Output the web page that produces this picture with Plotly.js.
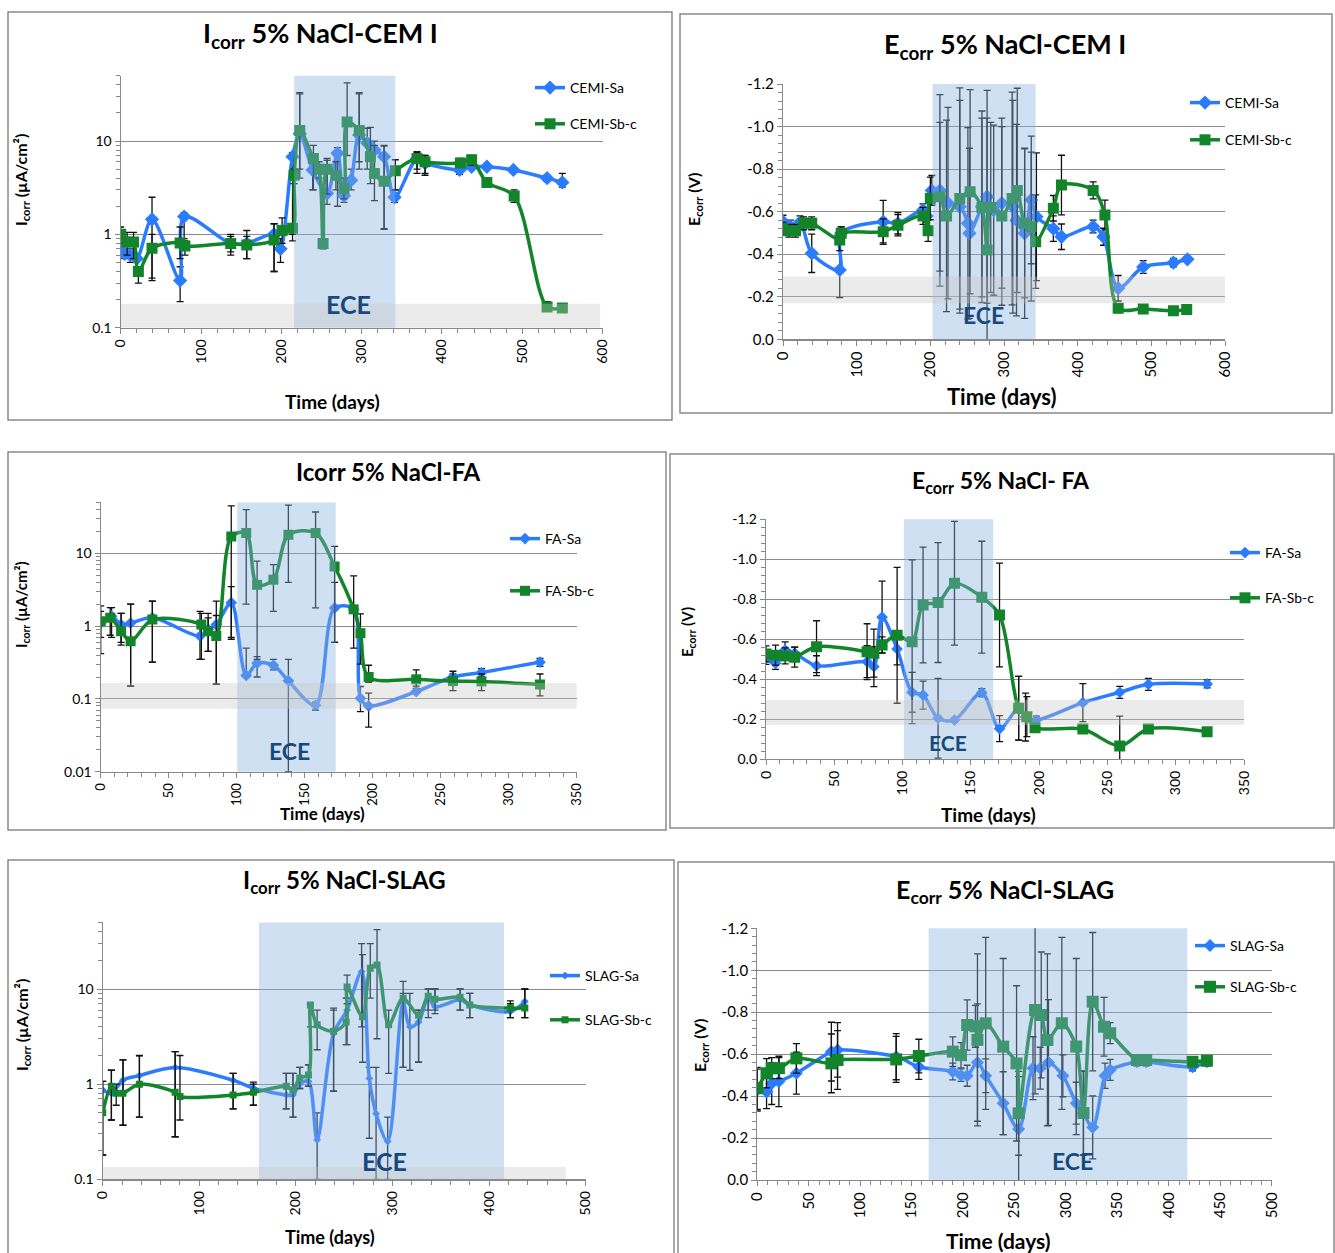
<!DOCTYPE html>
<html><head><meta charset="utf-8">
<script src="https://cdn.plot.ly/plotly-3.0.1.min.js"></script>
<style>html,body{margin:0;padding:0;background:#fff}#chart{width:1335px;height:1253px}</style>
</head><body><div id="chart"></div>
<script>
// ===== Panel 1: Icorr 5% NaCl-CEM I =====
const p1_days_Sa = [0,5,12,20,39,74,79,137,157,191,199,214,223,239,257,270,278,287,297,307,316,328,341,369,379,422,437,456,489,531,550];
const p1_Sa      = [0.67,0.62,0.6,0.55,1.45,0.32,1.55,0.8,0.8,1.0,0.7,6.8,12,4.9,2.75,7.4,2.6,3.8,11.6,9.5,8,6.8,2.5,6.5,5.8,4.9,5.3,5.3,4.9,4.0,3.6];
const p1_Sa_hi   = [1.1,0.75,0.7,0.6,2.5,0.45,1.7,1.0,1.1,1.3,0.9,7.5,32,6,6.2,8.5,3,5,33,13.7,10,8.8,3,7.7,7,5.5,5.6,5.6,5.2,4.3,4.5];
const p1_Sa_lo   = [0.6,0.55,0.5,0.45,0.32,0.19,0.9,0.65,0.55,0.4,0.5,0.85,4,3,2.1,2,2.2,3,5,5,2.3,1.13,2.2,4.5,4.3,4.4,5,5,4.6,3.7,3.2];
const p1_days_Sb = [0,8,16,22,39,74,80,137,157,191,201,214,216,223,240,247,252,257,268,278,282,297,311,316,328,342,369,379,423,437,456,490,531,550];
const p1_Sb      = [1.0,0.83,0.83,0.4,0.71,0.81,0.75,0.8,0.77,0.87,1.1,1.16,4.3,13,6.5,5.0,0.8,5.0,4.3,3.1,16,13,6.8,4.5,3.7,4.8,6.5,6.0,5.8,6.3,3.6,2.57,0.167,0.163];
const p1_Sb_hi   = [1.2,1.05,1.05,0.45,1.0,1.2,0.85,0.95,0.95,1.3,1.5,1.3,5,33,9,6,0.9,6.5,6,4,42,32,14,9,9,6.3,7.5,7,6.5,7,4,3,0.19,0.17];
const p1_Sb_lo   = [0.8,0.6,0.55,0.3,0.34,0.55,0.6,0.6,0.55,0.4,0.8,1.0,3.5,5,3,4,0.7,2.7,3,2.4,7,6,3.5,4,1.15,3,5,4.5,5.5,5.5,3.3,2.2,0.15,0.155];

// ===== Panel 2: Ecorr 5% NaCl-CEM I =====
const p2_days_Sa = [0,10,23,39,77,79,136,156,190,195,202,213,224,240,251,253,270,277,286,297,312,317,328,337,344,367,378,421,435,455,489,530,549];
const p2_Sa      = [-0.553,-0.53,-0.55,-0.404,-0.326,-0.498,-0.553,-0.545,-0.607,-0.58,-0.70,-0.70,-0.64,-0.623,-0.545,-0.498,-0.623,-0.67,-0.607,-0.64,-0.623,-0.56,-0.498,-0.655,-0.576,-0.52,-0.482,-0.53,-0.482,-0.24,-0.34,-0.36,-0.376];
const p2_Sa_err  = [0.03,0.03,0.03,0.09,0.13,0.03,0.1,0.05,0.03,0.03,0.07,0.45,0.45,0.5,0.45,0.4,0.45,0.5,0.4,0.4,0.5,0.45,0.4,0.3,0.3,0.06,0.06,0.03,0.04,0.06,0.03,0.02,0.01];
const p2_days_Sb = [0,8,17,28,39,77,79,136,156,190,197,200,213,222,240,254,270,277,282,297,311,318,328,337,343,367,378,421,437,455,489,530,548];
const p2_Sb      = [-0.52,-0.51,-0.51,-0.545,-0.545,-0.467,-0.498,-0.506,-0.536,-0.58,-0.51,-0.662,-0.67,-0.58,-0.662,-0.694,-0.62,-0.42,-0.62,-0.58,-0.662,-0.70,-0.545,-0.53,-0.459,-0.616,-0.725,-0.70,-0.584,-0.146,-0.143,-0.134,-0.14];
const p2_Sb_err  = [0.03,0.03,0.03,0.03,0.03,0.05,0.03,0.06,0.05,0.04,0.05,0.1,0.35,0.45,0.52,0.48,0.42,0.62,0.4,0.42,0.5,0.48,0.35,0.35,0.22,0.06,0.14,0.04,0.07,0.02,0.02,0.02,0.02];

// ===== Panel 3: Icorr 5% NaCl-FA =====
const p3_days_Sa = [0,8,15,22,38,73,79,85,96,107,115,127,138,158,172,186,191,197,232,259,280,323];
const p3_Sa      = [1.11,1.37,1.05,1.1,1.3,0.73,0.9,1.05,2.1,0.21,0.31,0.29,0.177,0.082,1.78,1.7,0.102,0.08,0.126,0.2,0.23,0.32];
const p3_Sa_hi   = [1.9,1.8,1.5,2.0,2.2,1.6,1.3,1.4,3.5,0.5,0.38,0.35,0.35,0.09,4,1.9,0.148,0.12,0.14,0.22,0.26,0.36];
const p3_Sa_lo   = [0.42,0.7,0.6,0.15,0.32,0.35,0.45,0.16,0.7,0.2,0.2,0.25,0.01,0.07,0.6,1.5,0.067,0.041,0.12,0.18,0.2,0.28];
const p3_days_Sb = [0,7,15,22,38,74,79,85,96,107,115,127,138,158,172,186,191,197,232,259,280,323];
const p3_Sb      = [1.17,1.3,0.85,0.62,1.23,1.05,0.85,0.73,17,19,3.7,4.35,18,19,6.6,1.7,0.8,0.2,0.186,0.176,0.174,0.158];
const p3_Sb_hi   = [1.6,1.8,1.5,2.0,2.2,1.5,1.5,2.2,45,40,7.8,7,46,37,12.5,4.9,1.47,0.29,0.25,0.24,0.22,0.22];
const p3_Sb_lo   = [0.7,0.75,0.55,0.15,0.32,0.35,0.45,0.16,0.66,2,0.35,1.6,4,1.78,0.6,0.5,0.3,0.17,0.15,0.13,0.13,0.11];

// ===== Panel 4: Ecorr 5% NaCl- FA =====
const p4_days_Sa = [0,7,14,21,37,74,79,85,96,107,115,126,138,158,171,185,190,198,232,259,280,323];
const p4_Sa      = [-0.504,-0.479,-0.546,-0.53,-0.467,-0.487,-0.462,-0.71,-0.551,-0.334,-0.32,-0.204,-0.195,-0.332,-0.152,-0.254,-0.21,-0.195,-0.282,-0.334,-0.374,-0.376];
const p4_Sa_err  = [0.03,0.03,0.04,0.03,0.05,0.08,0.1,0.18,0.08,0.1,0.07,0.2,0.01,0.02,0.065,0.16,0.12,0.02,0.095,0.03,0.03,0.02];
const p4_days_Sb = [0,7,14,21,37,74,79,85,96,107,115,126,138,158,171,185,191,197,232,259,280,323];
const p4_Sb      = [-0.526,-0.52,-0.516,-0.51,-0.562,-0.537,-0.53,-0.571,-0.619,-0.587,-0.771,-0.783,-0.88,-0.81,-0.721,-0.254,-0.212,-0.157,-0.15,-0.065,-0.15,-0.137];
const p4_Sb_err  = [0.04,0.05,0.04,0.05,0.13,0.14,0.12,0.04,0.34,0.41,0.29,0.3,0.31,0.28,0.26,0.16,0.1,0.02,0.02,0.15,0.02,0.02];

// ===== Panel 5: Icorr 5% NaCl-SLAG =====
const p5_days_Sa = [0,9,21,38,75,135,156,190,197,204,213,222,239,253,268,276,283,295,311,318,327,337,344,370,380,422,437];
const p5_Sa      = [0.87,0.8,1.1,1.23,1.5,1.1,0.91,0.77,0.77,1.0,1.07,0.26,3.4,6.0,15.2,1.15,0.49,0.25,7.1,4.0,4.5,8.0,6.5,7.7,6.8,5.8,7.4];
const p5_Sa_hi   = [1.07,1.4,1.8,2.0,2.2,1.3,1.0,1.3,1.3,1.5,1.6,0.5,6.3,8,30,1.5,1.5,0.45,9,9,6,10,10,10,9,7.5,10];
const p5_Sa_lo   = [0.18,0.42,0.37,0.45,0.28,0.55,0.6,0.55,0.45,0.9,0.95,0.1,0.84,2.6,4,0.27,0.1,0.1,1.5,1.4,1.7,5,5.5,6,5,5,5];
const p5_days_Sb = [0,9,14,21,38,75,80,135,156,190,197,204,213,215,222,239,252,253,269,277,284,296,311,327,337,344,370,380,422,437];
const p5_Sb      = [0.5,0.95,0.8,0.8,1.0,0.82,0.74,0.77,0.82,0.95,0.87,1.16,1.25,6.8,4.2,3.6,4.5,10.5,5.1,16.5,17.9,4.2,8,5.3,8.4,7.8,8.2,6.8,6.3,6.3];
const p5_Sb_hi   = [1.07,1.4,1.0,1.8,1.98,2.2,2.0,1.3,1.05,1.3,1.3,1.5,1.6,7,6,6,8,14,23,30,42,6,12,6,10,10,10,9,7,10];
const p5_Sb_lo   = [0.18,0.42,0.6,0.37,0.45,0.28,0.42,0.55,0.6,0.55,0.45,0.9,0.95,4,2.3,0.85,2.6,7,1.7,8,3,1.3,1.5,1.7,6,6,6,5,5,5];

// ===== Panel 6: Ecorr 5% NaCl-SLAG =====
const p6_days_Sa = [0,9,14,21,38,72,78,135,157,190,198,204,214,222,239,254,268,275,283,297,310,317,326,338,343,369,378,423,437];
const p6_Sa      = [-0.429,-0.42,-0.46,-0.47,-0.509,-0.612,-0.62,-0.588,-0.54,-0.517,-0.50,-0.497,-0.56,-0.497,-0.366,-0.243,-0.533,-0.533,-0.56,-0.497,-0.366,-0.318,-0.251,-0.497,-0.525,-0.564,-0.564,-0.54,-0.564];
const p6_Sa_err  = [0.1,0.08,0.1,0.12,0.1,0.14,0.13,0.11,0.06,0.04,0.03,0.05,0.28,0.08,0.15,0.25,0.15,0.1,0.3,0.1,0.1,0.2,0.15,0.06,0.05,0.02,0.02,0.02,0.02];
const p6_days_Sb = [0,9,14,21,38,72,78,135,157,190,198,204,212,214,222,239,252,254,270,276,282,296,310,317,326,337,343,369,378,423,437];
const p6_Sb      = [-0.437,-0.509,-0.533,-0.533,-0.58,-0.556,-0.572,-0.575,-0.591,-0.612,-0.595,-0.739,-0.733,-0.668,-0.747,-0.636,-0.556,-0.318,-0.811,-0.787,-0.668,-0.747,-0.636,-0.32,-0.85,-0.731,-0.70,-0.572,-0.572,-0.564,-0.568];
const p6_Sb_err  = [0.1,0.07,0.05,0.05,0.07,0.14,0.14,0.11,0.08,0.07,0.06,0.12,0.1,0.41,0.41,0.42,0.37,0.2,0.4,0.3,0.41,0.41,0.42,0.2,0.33,0.14,0.05,0.02,0.02,0.02,0.02];

// ===== tick labels =====
const ticks600 = [0,100,200,300,400,500,600];
const ticks500 = [0,100,200,300,400,500];
const ticks350 = [0,50,100,150,200,250,300,350];
const ticks500by50 = [0,50,100,150,200,250,300,350,400,450,500];
const logTicks3 = [0.1,1,10];
const logTicks4 = [0.01,0.1,1,10];
const eTicks = [0,-0.2,-0.4,-0.6,-0.8,-1.0,-1.2];
const eTickText = ['0.0','-0.2','-0.4','-0.6','-0.8','-1.0','-1.2'];

// ===== styling & building =====
const W = 1335, H = 1253;
const px = x => x / W, py = y => 1 - y / H;
const BLUE = '#2b7bff', GREEN = '#12842a', ERRC = '#111';
const FONT = 'Lato, "Open Sans", "DejaVu Sans", sans-serif';
const traces = [], shapes = [], annotations = [];
const layout = {
  width: W, height: H, margin: {l:0, r:0, t:0, b:0},
  paper_bgcolor: '#fff', plot_bgcolor: 'rgba(0,0,0,0)',
  font: {family: FONT, color: '#000', size: 14},
  showlegend: true, hovermode: false
};

function logMinor(lo, hi) {
  const out = [];
  for (let e = lo; e < hi; e++) for (let k = 2; k <= 9; k++) out.push(k * Math.pow(10, e));
  return out;
}

function panel(c) {
  const n = c.idx;
  const xk = n === 1 ? 'xaxis' : 'xaxis' + n, yk = n === 1 ? 'yaxis' : 'yaxis' + n;
  const xr = n === 1 ? 'x' : 'x' + n, yr = n === 1 ? 'y' : 'y' + n;
  const lg = n === 1 ? 'legend' : 'legend' + n;
  layout[xk] = {
    domain: [px(c.xDom[0]), px(c.xDom[1])], range: c.xRange, anchor: yr,
    tickmode: 'array', tickvals: c.xTicks, ticktext: c.xTicks.map(String), tickangle: -90,
    ticks: 'outside', ticklen: 5, tickcolor: '#888', showline: true, linecolor: '#888', linewidth: 1.2,
    showgrid: false, zeroline: false, tickfont: {size: c.xTickSize || c.tickSize || 14, family: FONT, color: '#000'},
    minor: {ticks: 'outside', ticklen: 4, tickcolor: '#888', dtick: c.xMinor, tick0: 0, showgrid: false},
    fixedrange: true
  };
  const ya = {
    domain: [py(c.yDom[1]), py(c.yDom[0])], anchor: xr,
    ticks: 'outside', ticklen: 5, tickcolor: '#888', showline: true, linecolor: '#888', linewidth: 1.2,
    showgrid: true, gridcolor: '#8c8c8c', gridwidth: 1, zeroline: false,
    tickfont: {size: c.tickSize || 14, family: FONT, color: '#000'}, fixedrange: true
  };
  if (c.log) {
    Object.assign(ya, {type: 'log', range: c.yRange, tickmode: 'array', tickvals: c.yTicks, ticktext: c.yTicks.map(String),
      minor: {tickmode: 'array', tickvals: logMinor(c.yRange[0], Math.ceil(c.yRange[1])).filter(v => Math.log10(v) <= c.yRange[1]),
        ticks: 'outside', ticklen: 4, tickcolor: '#888', showgrid: false}});
  } else {
    Object.assign(ya, {range: [0, -1.2], tickmode: 'array', tickvals: eTicks, ticktext: eTickText,
      minor: {ticks: 'outside', ticklen: 4, tickcolor: '#888', dtick: 0.04, tick0: 0, showgrid: false}});
  }
  layout[yk] = ya;
  layout[lg] = {x: px(c.legend.x), y: py(c.legend.y), xanchor: 'left', yanchor: 'top',
    bgcolor: 'rgba(0,0,0,0)', font: {size: 14, family: FONT, color: '#000'},
    tracegroupgap: c.legend.gap, traceorder: 'grouped', itemwidth: 30};

  c.series.forEach((s, i) => {
    let ey;
    if (s.hi) ey = {type: 'data', symmetric: false, array: s.hi.map((h, j) => h - s.vals[j]), arrayminus: s.vals.map((v, j) => v - s.lo[j]),
      color: ERRC, thickness: 1.3, width: 3.5};
    else ey = {type: 'data', array: s.err, color: ERRC, thickness: 1.3, width: 3.5};
    traces.push({
      type: 'scatter', mode: 'lines+markers', name: s.name, x: s.days, y: s.vals, xaxis: xr, yaxis: yr,
      legend: lg, legendgroup: 'p' + n + '_' + i,
      line: {color: s.color, width: c.lw || 3.5, shape: 'spline', smoothing: 0.9},
      marker: {color: s.color, symbol: s.symbol, size: s.size},
      error_y: ey
    });
  });

  // frame
  shapes.push({type: 'rect', xref: 'paper', yref: 'paper', x0: px(c.frame[0]), y0: py(c.frame[3]), x1: px(c.frame[2]), y1: py(c.frame[1]),
    line: {color: '#8a8a8a', width: 1.5}, fillcolor: 'rgba(0,0,0,0)', layer: 'below'});
  // ECE band
  shapes.push({type: 'rect', xref: xr, yref: yr + ' domain', x0: c.ece[0], x1: c.ece[1], y0: 0, y1: 1,
    fillcolor: 'rgba(135,178,223,0.4)', line: {width: 0}, layer: 'above'});
  // gray band (data values)
  if (c.gray) {
    shapes.push({type: 'rect', xref: xr, yref: yr, x0: c.gray[0], x1: c.gray[1], y0: c.gray[2], y1: c.gray[3],
      fillcolor: 'rgba(198,198,198,0.35)', line: {width: 0}, layer: 'above'});
  }
  annotations.push({xref: 'paper', yref: 'paper', x: px(c.eceLabel[0]), y: py(c.eceLabel[1]), text: '<b>ECE</b>', showarrow: false,
    xanchor: 'center', yanchor: 'middle', font: {size: c.eceLabel[2], color: '#174a7c', family: FONT}});
  annotations.push({xref: 'paper', yref: 'paper', x: px(c.title[0]), y: py(c.title[1]), text: '<b>' + c.title[3] + '</b>', showarrow: false,
    xanchor: 'center', yanchor: 'middle', font: {size: c.title[2], color: '#000', family: FONT}});
  annotations.push({xref: 'paper', yref: 'paper', x: px(c.ytitle[0]), y: py(c.ytitle[1]), text: '<b>' + c.ytitle[3] + '</b>', showarrow: false,
    textangle: -90, xanchor: 'center', yanchor: 'middle', font: {size: c.ytitle[2], color: '#000', family: FONT}});
  annotations.push({xref: 'paper', yref: 'paper', x: px(c.xtitle[0]), y: py(c.xtitle[1]), text: '<b>Time (days)</b>', showarrow: false,
    xanchor: 'center', yanchor: 'middle', font: {size: c.xtitle[2], color: '#000', family: FONT}});
}

const ICORR_T = 'I<sub>corr</sub> (\u00b5A/cm\u00b2)';
const ECORR_T = 'E<sub>corr</sub> (V)';

panel({idx: 1, xDom: [120.7, 602.5], yDom: [75.7, 327.7], xRange: [0, 600], xTicks: ticks600, xMinor: 20,
  log: true, yRange: [-1, 1.7], yTicks: logTicks3,
  frame: [8, 12, 672, 420], ece: [216, 342], gray: [0, 597, 0.1, 0.18],
  eceLabel: [348, 304, 25], title: [320, 34, 27, 'I<sub>corr</sub> 5% NaCl-CEM I'],
  ytitle: [22, 180, 16, ICORR_T], xtitle: [332, 402, 19], legend: {x: 530, y: 72, gap: 15},
  series: [
    {name: 'CEMI-Sa', days: p1_days_Sa, vals: p1_Sa, hi: p1_Sa_hi, lo: p1_Sa_lo, color: BLUE, symbol: 'diamond', size: 11},
    {name: 'CEMI-Sb-c', days: p1_days_Sb, vals: p1_Sb, hi: p1_Sb_hi, lo: p1_Sb_lo, color: GREEN, symbol: 'square', size: 11}
  ]});

panel({idx: 2, xDom: [783, 1225], yDom: [84, 339.3], xRange: [0, 600], xTicks: ticks600, xMinor: 20, tickSize: 15,
  log: false, frame: [680, 14, 1332, 413], ece: [203, 343], gray: [0, 607, -0.17, -0.295],
  eceLabel: [984, 315, 23], title: [1005, 46, 27, 'E<sub>corr</sub> 5% NaCl-CEM I'],
  ytitle: [695, 200, 16, ECORR_T], xtitle: [1002, 397, 22], legend: {x: 1185, y: 87, gap: 16},
  series: [
    {name: 'CEMI-Sa', days: p2_days_Sa, vals: p2_Sa, err: p2_Sa_err, color: BLUE, symbol: 'diamond', size: 11},
    {name: 'CEMI-Sb-c', days: p2_days_Sb, vals: p2_Sb, err: p2_Sb_err, color: GREEN, symbol: 'square', size: 11}
  ]});

panel({idx: 3, xDom: [100.7, 576.7], yDom: [502.4, 771.7], xRange: [0, 350], xTicks: ticks350, xMinor: 10, xTickSize: 13,
  log: true, yRange: [-2, 1.7], yTicks: logTicks4,
  frame: [8, 452, 666, 830], ece: [100.4, 172.8], gray: [0, 353, 0.073, 0.166],
  eceLabel: [289, 751, 23], title: [388, 471, 24, 'Icorr 5% NaCl-FA'],
  ytitle: [22, 605, 15, ICORR_T], xtitle: [322, 813, 17], legend: {x: 505, y: 523, gap: 31},
  series: [
    {name: 'FA-Sa', days: p3_days_Sa, vals: p3_Sa, hi: p3_Sa_hi, lo: p3_Sa_lo, color: BLUE, symbol: 'diamond', size: 9},
    {name: 'FA-Sb-c', days: p3_days_Sb, vals: p3_Sb, hi: p3_Sb_hi, lo: p3_Sb_lo, color: GREEN, symbol: 'square', size: 10}
  ]});

panel({idx: 4, xDom: [766, 1244], yDom: [519.3, 759], xRange: [0, 350], xTicks: ticks350, xMinor: 10,
  log: false, frame: [670, 454, 1334, 828], ece: [101, 166.4], gray: [0, 350, -0.17, -0.295],
  eceLabel: [948, 742, 21], title: [1001, 482, 23, 'E<sub>corr</sub> 5% NaCl- FA'],
  ytitle: [688, 632, 15, ECORR_T], xtitle: [988, 814, 19], legend: {x: 1225, y: 537, gap: 24},
  series: [
    {name: 'FA-Sa', days: p4_days_Sa, vals: p4_Sa, err: p4_Sa_err, color: BLUE, symbol: 'diamond', size: 9},
    {name: 'FA-Sb-c', days: p4_days_Sb, vals: p4_Sb, err: p4_Sb_err, color: GREEN, symbol: 'square', size: 11}
  ]});

panel({idx: 5, xDom: [102.7, 585.7], yDom: [922.4, 1179.3], xRange: [0, 500], xTicks: ticks500, xMinor: 20,
  log: true, yRange: [-1, 1.7], yTicks: logTicks3,
  frame: [8, 860, 674, 1262], ece: [161.8, 415.4], gray: [0, 479.6, 0.1, 0.135],
  eceLabel: [384, 1161, 25], title: [344, 881, 24, 'I<sub>corr</sub> 5% NaCl-SLAG'],
  ytitle: [22, 1025, 16, ICORR_T], xtitle: [330, 1237, 18], legend: {x: 545, y: 960, gap: 23}, lw: 3.5,
  series: [
    {name: 'SLAG-Sa', days: p5_days_Sa, vals: p5_Sa, hi: p5_Sa_hi, lo: p5_Sa_lo, color: BLUE, symbol: 'diamond', size: 6},
    {name: 'SLAG-Sb-c', days: p5_days_Sb, vals: p5_Sb, hi: p5_Sb_hi, lo: p5_Sb_lo, color: GREEN, symbol: 'square', size: 7}
  ]});

panel({idx: 6, xDom: [757.3, 1271.7], yDom: [928.3, 1180], xRange: [0, 500], xTicks: ticks500by50, xMinor: 10, tickSize: 15,
  log: false, frame: [678, 862, 1334, 1262], ece: [166.5, 418], gray: null,
  eceLabel: [1072, 1161, 23], title: [1005, 891, 25, 'E<sub>corr</sub> 5% NaCl-SLAG'],
  ytitle: [700, 1045, 16, ECORR_T], xtitle: [998, 1240, 21], legend: {x: 1190, y: 930, gap: 20},
  series: [
    {name: 'SLAG-Sa', days: p6_days_Sa, vals: p6_Sa, err: p6_Sa_err, color: BLUE, symbol: 'diamond', size: 10},
    {name: 'SLAG-Sb-c', days: p6_days_Sb, vals: p6_Sb, err: p6_Sb_err, color: GREEN, symbol: 'square', size: 12}
  ]});

layout.shapes = shapes;
layout.annotations = annotations;
Plotly.newPlot('chart', traces, layout, {displayModeBar: false, staticPlot: true});
</script></body></html>
